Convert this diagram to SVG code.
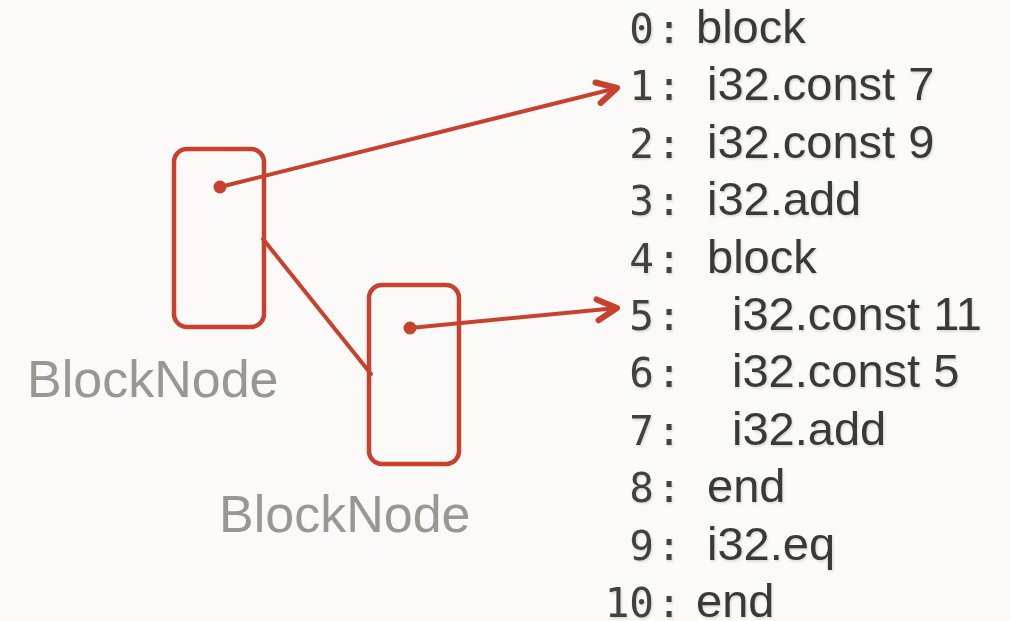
<svg xmlns="http://www.w3.org/2000/svg" width="1010" height="621" viewBox="0 0 1010 621">
  <defs>
    <style>
      .box { fill: none; stroke: #c8412f; stroke-width: 4.5; }
      .dot { fill: #c8412f; }
      .wire { fill: none; stroke: #c8412f; stroke-width: 4; stroke-linecap: round; }
      .num { font-family: "DejaVu Sans Mono", "Liberation Mono", monospace; font-size: 41px; fill: #44413f; }
      .code { font-family: "Liberation Sans", Arial, sans-serif; font-size: 47px; fill: #3b3937; }
      .label { font-family: "Liberation Sans", Arial, sans-serif; font-size: 52px; fill: #9d958f; }
    </style>
    <marker id="chevron" markerUnits="userSpaceOnUse" markerWidth="30" markerHeight="30" refX="16" refY="10" orient="auto" viewBox="0 0 20 20">
      <path d="M3,3 L16,10 L3,17" fill="none" stroke="#c8412f" stroke-width="4" stroke-linecap="round" stroke-linejoin="round"/>
    </marker>
    <filter id="soft" x="-5%" y="-10%" width="110%" height="130%">
      <feDropShadow dx="1" dy="1.5" stdDeviation="1" flood-color="#000" flood-opacity="0.15"/>
    </filter>
  </defs>

  <rect width="1010" height="621" fill="#fbfaf9"/>

  <!-- instruction listing -->
  <g id="listing" filter="url(#soft)">
    <g class="num" text-anchor="end">
      <text x="654" y="43">0</text>
      <text x="654" y="100">1</text>
      <text x="654" y="158">2</text>
      <text x="654" y="215">3</text>
      <text x="654" y="273">4</text>
      <text x="654" y="330">5</text>
      <text x="654" y="387">6</text>
      <text x="654" y="445">7</text>
      <text x="654" y="502">8</text>
      <text x="654" y="560">9</text>
      <text x="654" y="617">10</text>
    </g>
    <g class="num" text-anchor="middle">
      <text x="669" y="43">:</text>
      <text x="669" y="100">:</text>
      <text x="669" y="158">:</text>
      <text x="669" y="215">:</text>
      <text x="669" y="273">:</text>
      <text x="669" y="330">:</text>
      <text x="669" y="387">:</text>
      <text x="669" y="445">:</text>
      <text x="669" y="502">:</text>
      <text x="669" y="560">:</text>
      <text x="669" y="617">:</text>
    </g>
    <g class="code">
      <text x="696" y="43">block</text>
      <text x="707" y="100">i32.const 7</text>
      <text x="707" y="158">i32.const 9</text>
      <text x="707" y="215">i32.add</text>
      <text x="707" y="273">block</text>
      <text x="732" y="330">i32.const 11</text>
      <text x="732" y="387">i32.const 5</text>
      <text x="732" y="445">i32.add</text>
      <text x="707" y="502">end</text>
      <text x="707" y="560">i32.eq</text>
      <text x="696" y="617">end</text>
    </g>
  </g>

  <!-- connectors -->
  <g id="connectors">
    <line class="wire" x1="263" y1="239" x2="371" y2="374"/>
    <line class="wire" x1="220" y1="187" x2="617" y2="88" marker-end="url(#chevron)"/>
    <line class="wire" x1="410" y1="328" x2="617" y2="308" marker-end="url(#chevron)"/>
  </g>

  <!-- outer block node -->
  <g id="block-outer">
    <rect class="box" x="174" y="149" width="90" height="178" rx="13"/>
    <circle class="dot" cx="220" cy="187" r="6.5"/>
    <text class="label" x="27" y="397">BlockNode</text>
  </g>

  <!-- inner block node -->
  <g id="block-inner">
    <rect class="box" x="369" y="285" width="90" height="179" rx="13"/>
    <circle class="dot" cx="410" cy="328" r="6.5"/>
    <text class="label" x="219" y="532">BlockNode</text>
  </g>
</svg>
